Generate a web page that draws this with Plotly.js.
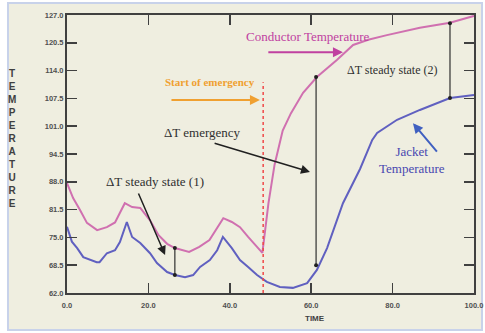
<!DOCTYPE html>
<html>
<head>
<meta charset="utf-8">
<script src="https://cdn.plot.ly/plotly-3.0.1.min.js"></script>
<style>html,body{margin:0;padding:0;background:#fff;}#chart{width:485px;height:333px;}</style>
</head>
<body>
<div id="chart"></div>
<script>
// Conductor temperature
var condTime = [0, 1.5, 3.2, 4.9, 7.4, 9.8, 11.8, 14.2, 16, 18, 20.4, 22.5, 24.6, 26.5, 30, 32.5, 35, 38.4, 40.5, 42.5, 44.5, 48, 49.5, 51, 53, 55, 58, 61.4, 66.3, 70.3, 74, 78.6, 86.7, 94.1, 100];
var condTemp = [87.7, 84.2, 81.4, 78.4, 76.7, 77.4, 78.5, 83, 82.1, 81.9, 79, 75.5, 73.5, 72.5, 71.6, 72.8, 74.4, 79.5, 78.6, 77.4, 75.1, 71.4, 83, 92, 100, 104, 108.8, 112.5, 116.5, 120, 121.2, 122.3, 124, 125.2, 126.8];
// Jacket temperature
var jackTime = [0, 1.2, 2.5, 4, 7.3, 8, 9.8, 11.8, 13, 14.7, 16, 18, 20.4, 22.1, 24.6, 26.5, 29, 31, 32.7, 35.1, 36.9, 38.3, 40.5, 42.5, 44.5, 46.7, 49.1, 52.3, 55.5, 59, 61.4, 63.9, 67.8, 72, 75, 76.2, 81.1, 86.7, 94.1, 100];
var jackTemp = [77.5, 74, 72.5, 70.4, 69.2, 69.2, 71.3, 72, 73.9, 78.6, 75.1, 73.7, 71.3, 69, 66.9, 66.2, 65.7, 66.2, 68.1, 69.7, 72, 75.1, 72.5, 69.7, 68.1, 66.2, 64.6, 63.4, 63.2, 64.3, 67.4, 72.5, 83, 91, 97.8, 99.4, 102.5, 104.8, 107.6, 108.3];
// Delta-T markers
var deltaTime = [26.5, 61.2, 94.1];
var deltaLow = [66.2, 68.5, 107.6];
var deltaHigh = [72.5, 112.5, 125.1];
var emergencyTime = 48.2;
var xTicks = [0, 20, 40, 60, 80, 100];
var yTicks = [62.0, 68.5, 75.0, 81.5, 88.0, 94.5, 101.0, 107.5, 114.0, 120.5, 127.0];

var traces = [
  {x: condTime, y: condTemp, mode: 'lines', line: {color: '#d070b0', width: 2}, hoverinfo: 'skip'},
  {x: jackTime, y: jackTemp, mode: 'lines', line: {color: '#6060c0', width: 2}, hoverinfo: 'skip'}
];
for (var i = 0; i < deltaTime.length; i++) {
  traces.push({x: [deltaTime[i], deltaTime[i]], y: [deltaLow[i], deltaHigh[i]], mode: 'lines+markers',
    line: {color: '#303030', width: 1.2}, marker: {color: '#202020', size: 4}, hoverinfo: 'skip'});
}

var serif = 'Liberation Serif, Times New Roman, serif';
var annotations = [
  {x: 59.2, y: 121.9, text: 'Conductor Temperature', showarrow: false, font: {family: serif, size: 13, color: '#c040a0'}},
  {x: 67.8, y: 118.3, ax: 49.1, ay: 118.3, axref: 'x', ayref: 'y', text: '', showarrow: true, arrowhead: 2, arrowsize: 1, arrowwidth: 2, arrowcolor: '#c040a0'},
  {x: 35.1, y: 111.3, text: '<b>Start of emergency</b>', showarrow: false, font: {family: serif, size: 11, color: '#f0a030'}},
  {x: 47.4, y: 107.1, ax: 25.3, ay: 107.1, axref: 'x', ayref: 'y', text: '', showarrow: true, arrowhead: 2, arrowsize: 1, arrowwidth: 2, arrowcolor: '#f0a030'},
  {x: 33.4, y: 99.6, text: '\u0394T emergency', showarrow: false, font: {family: serif, size: 13, color: '#303030'}},
  {x: 59.7, y: 90.3, ax: 35.9, ay: 97.1, axref: 'x', ayref: 'y', text: '', showarrow: true, arrowhead: 2, arrowsize: 1.2, arrowwidth: 1.5, arrowcolor: '#202020'},
  {x: 79.9, y: 114.1, text: '\u0394T steady state (2)', showarrow: false, font: {family: serif, size: 12, color: '#303030'}},
  {x: 84.8, y: 93.1, text: 'Jacket<br>Temperature', showarrow: false, font: {family: serif, size: 13, color: '#4848b0'}},
  {x: 85.0, y: 101.7, ax: 91.2, ay: 94.7, axref: 'x', ayref: 'y', text: '', showarrow: true, arrowhead: 2, arrowsize: 1, arrowwidth: 2, arrowcolor: '#4060c0'},
  {x: 21.6, y: 88.0, text: '\u0394T steady state (1)', showarrow: false, font: {family: serif, size: 13, color: '#303030'}},
  {x: 24.1, y: 70.9, ax: 17.4, ay: 85.6, axref: 'x', ayref: 'y', text: '', showarrow: true, arrowhead: 2, arrowsize: 1.2, arrowwidth: 1.5, arrowcolor: '#202020'},
  {xref: 'paper', yref: 'paper', x: -0.135, y: 0.555, xanchor: 'center', yanchor: 'middle', showarrow: false,
   text: 'T<br>E<br>M<br>P<br>E<br>R<br>A<br>T<br>U<br>R<br>E', font: {family: 'Liberation Sans, Arial', size: 10, weight: 'bold', color: '#404040'}},
  {xref: 'paper', yref: 'paper', x: 0.609, y: -0.09, xanchor: 'center', yanchor: 'middle', showarrow: false,
   text: 'TIME', font: {family: 'Liberation Sans, Arial', size: 8, weight: 'bold', color: '#404040'}}
];

var shapes = [
  {type: 'rect', xref: 'paper', yref: 'paper', x0: -0.145, x1: 1.0197, y0: -0.133, y1: 1.043, layer: 'below',
   line: {color: '#c8d2ea', width: 2}, fillcolor: '#efeee0'},
  {type: 'line', xref: 'x', yref: 'y', x0: emergencyTime, x1: emergencyTime, y0: 62, y1: 111.3,
   line: {color: '#f04848', width: 1.5, dash: 'dot'}}
];

var axisCommon = {showgrid: false, zeroline: false, showline: true, linecolor: '#404040', linewidth: 2,
  mirror: 'ticks', ticks: 'inside', ticklen: 10, tickwidth: 1.5, tickcolor: '#404040',
  tickfont: {family: 'Liberation Sans, Arial', size: 7.5, weight: 'bold', color: '#505050'}, tickformat: '.1f', fixedrange: true};

var layout = {
  width: 485, height: 333,
  margin: {l: 67, r: 11, t: 15, b: 40},
  paper_bgcolor: '#ffffff', plot_bgcolor: 'rgba(0,0,0,0)',
  showlegend: false,
  xaxis: Object.assign({}, axisCommon, {range: [0, 100], tickvals: xTicks, ticklabelstandoff: 4}),
  yaxis: Object.assign({}, axisCommon, {range: [62, 127], tickvals: yTicks}),
  annotations: annotations,
  shapes: shapes
};

Plotly.newPlot('chart', traces, layout, {staticPlot: true, displayModeBar: false});
</script>
</body>
</html>
